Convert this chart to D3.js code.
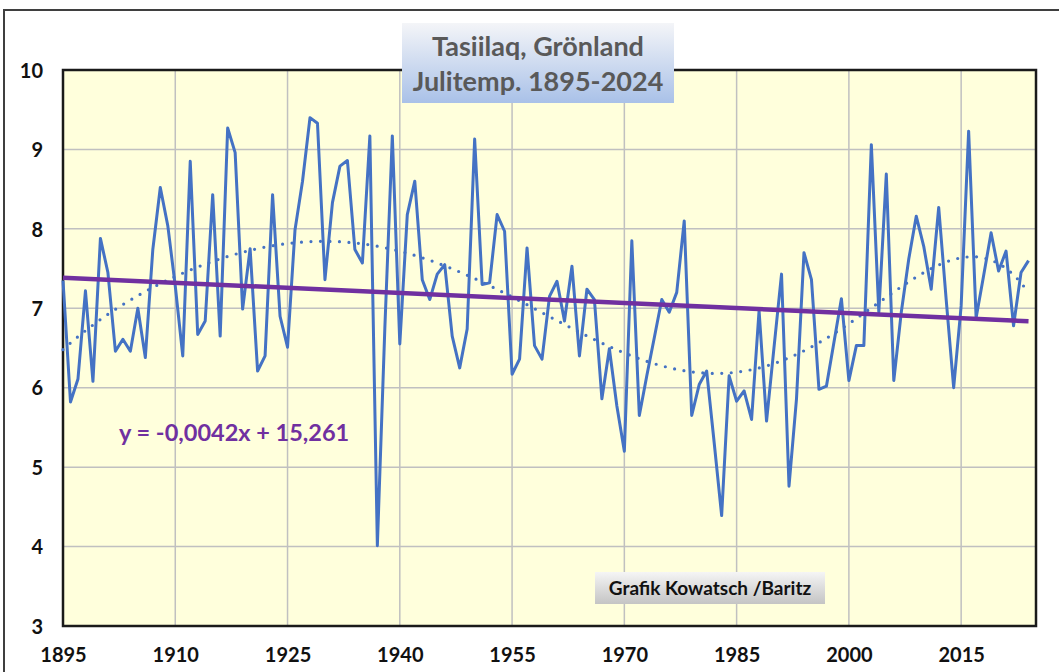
<!DOCTYPE html>
<html>
<head>
<meta charset="utf-8">
<title>Tasiilaq Julitemp</title>
<script src="https://cdnjs.cloudflare.com/ajax/libs/d3/7.8.5/d3.min.js"></script>
<style>
  body { margin: 0; background: #fff; }
  text { font-family: Lato, "Open Sans", sans-serif; font-weight: bold; }
</style>
</head>
<body>
<script>
// July temperatures Tasiilaq, 1895-2024
var startYear = 1895;
var temps = [
  7.35, 5.82, 6.11, 7.22, 6.08,
  7.88, 7.45, 6.46, 6.61, 6.46, 7.00, 6.38, 7.74, 8.52, 8.04,
  7.28, 6.40, 8.85, 6.67, 6.84, 8.43, 6.65, 9.27, 8.96, 6.99,
  7.75, 6.21, 6.40, 8.43, 6.90, 6.51, 7.99, 8.60, 9.40, 9.33,
  7.36, 8.33, 8.79, 8.86, 7.74, 7.57, 9.17, 4.01, 6.75, 9.17,
  6.55, 8.18, 8.60, 7.36, 7.11, 7.43, 7.55, 6.65, 6.25, 6.74,
  9.13, 7.30, 7.32, 8.18, 7.97, 6.17, 6.36, 7.76, 6.53, 6.36,
  7.15, 7.34, 6.84, 7.53, 6.40, 7.24, 7.11, 5.86, 6.49, 5.77,
  5.20, 7.85, 5.65, 6.15, 6.63, 7.11, 6.95, 7.20, 8.10, 5.65,
  6.04, 6.21, 5.31, 4.39, 6.15, 5.83, 5.96, 5.60, 6.97, 5.58,
  6.51, 7.43, 4.76, 5.86, 7.70, 7.36, 5.98, 6.02, 6.57, 7.12,
  6.09, 6.53, 6.53, 9.06, 6.95, 8.69, 6.09, 6.95, 7.62, 8.16,
  7.78, 7.24, 8.27, 7.11, 6.00, 7.03, 9.23, 6.88, 7.41, 7.95,
  7.47, 7.72, 6.78, 7.45, 7.60
];
var years = temps.map(function(d, i) { return startYear + i; });
var xTicks = [1895, 1910, 1925, 1940, 1955, 1970, 1985, 2000, 2015];
var yTicks = [3, 4, 5, 6, 7, 8, 9, 10];
var titleLines = ["Tasiilaq, Grönland", "Julitemp. 1895-2024"];
var equation = "y = -0,0042x + 15,261";
var credit = "Grafik Kowatsch /Baritz";

var width = 1059, height = 672;
var svg = d3.select("body").append("svg")
  .attr("width", width)
  .attr("height", height);

var x = d3.scaleLinear().domain([1895, 2025]).range([63, 1036]);
var y = d3.scaleLinear().domain([3, 10]).range([626, 70]);

var data = years.map(function(yr, i) { return {year: yr, t: temps[i]}; });

// gradients
var defs = svg.append("defs");
var g1 = defs.append("linearGradient").attr("id", "titleGrad")
  .attr("x1", 0).attr("y1", 0).attr("x2", 0).attr("y2", 1);
g1.append("stop").attr("offset", "0%").attr("stop-color", "#f4f5f8");
g1.append("stop").attr("offset", "100%").attr("stop-color", "#a9c1e8");
var g2 = defs.append("linearGradient").attr("id", "creditGrad")
  .attr("x1", 0).attr("y1", 0).attr("x2", 0).attr("y2", 1);
g2.append("stop").attr("offset", "0%").attr("stop-color", "#f5f5f5");
g2.append("stop").attr("offset", "100%").attr("stop-color", "#c4c4c4");

// chart border
svg.append("rect")
  .attr("x", 4).attr("y", 10)
  .attr("width", 1100).attr("height", 700)
  .style("fill", "#fff")
  .style("stroke", "#3f3f3f")
  .style("stroke-width", 2);

// plot area
svg.append("rect")
  .attr("x", x(1895)).attr("y", y(10))
  .attr("width", x(2025) - x(1895)).attr("height", y(3) - y(10))
  .style("fill", "#ffffdc");

// gridlines
svg.append("g").selectAll("line")
  .data(yTicks.slice(1, -1))
  .join("line")
  .attr("x1", x(1895)).attr("x2", x(2025))
  .attr("y1", function(d) { return y(d); })
  .attr("y2", function(d) { return y(d); })
  .style("stroke", "#c0c0c0").style("stroke-width", 1.5);

svg.append("g").selectAll("line")
  .data(xTicks.slice(1))
  .join("line")
  .attr("x1", function(d) { return x(d); })
  .attr("x2", function(d) { return x(d); })
  .attr("y1", y(10)).attr("y2", y(3))
  .style("stroke", "#c0c0c0").style("stroke-width", 1.5);

// plot frame
svg.append("rect")
  .attr("x", x(1895)).attr("y", y(10))
  .attr("width", x(2025) - x(1895)).attr("height", y(3) - y(10))
  .style("fill", "none")
  .style("stroke", "#1a1a1a")
  .style("stroke-width", 2.5);

// axes labels
var xAxis = d3.axisBottom(x).tickValues(xTicks).tickFormat(d3.format("d")).tickSize(0).tickPadding(0);
var gx = svg.append("g").attr("transform", "translate(0,648)").call(xAxis);
gx.select(".domain").remove();
gx.selectAll("text").attr("dy", "0.71em").style("font-size", "20px").style("fill", "#111");

var yAxis = d3.axisLeft(y).tickValues(yTicks).tickFormat(d3.format("d")).tickSize(0).tickPadding(0);
var gy = svg.append("g").attr("transform", "translate(43,0)").call(yAxis);
gy.select(".domain").remove();
gy.selectAll("text").attr("dy", "0.36em").style("font-size", "20px").style("fill", "#111");

// least squares polynomial
function polyfit(xs, ys, order) {
  var n = order + 1;
  var A = [];
  for (var r = 0; r < n; r++) {
    A.push([]);
    for (var c = 0; c <= n; c++) A[r].push(0);
  }
  xs.forEach(function(xv, k) {
    for (var r = 0; r < n; r++) {
      for (var c = 0; c < n; c++) A[r][c] += Math.pow(xv, r + c);
      A[r][n] += ys[k] * Math.pow(xv, r);
    }
  });
  for (var i = 0; i < n; i++) {
    var p = i;
    for (var j = i + 1; j < n; j++) if (Math.abs(A[j][i]) > Math.abs(A[p][i])) p = j;
    var tmp = A[i]; A[i] = A[p]; A[p] = tmp;
    for (var j = i + 1; j < n; j++) {
      var f = A[j][i] / A[i][i];
      for (var c = i; c <= n; c++) A[j][c] -= f * A[i][c];
    }
  }
  var coef = new Array(n).fill(0);
  for (var i = n - 1; i >= 0; i--) {
    var s = A[i][n];
    for (var j = i + 1; j < n; j++) s -= A[i][j] * coef[j];
    coef[i] = s / A[i][i];
  }
  return coef;
}
function evalPoly(coef, xv) {
  return coef.reduce(function(s, c, i) { return s + c * Math.pow(xv, i); }, 0);
}
var xn = d3.scaleLinear().domain([1895, 2024]).range([-1, 1]);
var xsN = years.map(xn);
var polyCoef = polyfit(xsN, temps, 6);
var linCoef = polyfit(xsN, temps, 1);

var line = d3.line()
  .x(function(d) { return x(d.year); })
  .y(function(d) { return y(d.t); });

// polynomial trend, dotted
svg.append("path")
  .attr("d", line(years.map(function(yr) { return {year: yr, t: evalPoly(polyCoef, xn(yr))}; })))
  .style("fill", "none")
  .style("stroke", "#4472c4")
  .style("stroke-width", 3.2)
  .style("stroke-linecap", "round")
  .style("stroke-dasharray", "0 9.5");

// data line
svg.append("path")
  .attr("d", line(data))
  .style("fill", "none")
  .style("stroke", "#4472c4")
  .style("stroke-width", 3)
  .style("stroke-linejoin", "round");

// linear trend
svg.append("path")
  .attr("d", line([1895, 2024].map(function(yr) { return {year: yr, t: evalPoly(linCoef, xn(yr))}; })))
  .style("fill", "none")
  .style("stroke", "#7030a0")
  .style("stroke-width", 4.5);

svg.append("text")
  .attr("x", 119).attr("y", 441)
  .style("font-size", "23.5px")
  .style("fill", "#7030a0")
  .text(equation);

// title box
svg.append("rect")
  .attr("x", 402).attr("y", 23)
  .attr("width", 272).attr("height", 80)
  .style("fill", "url(#titleGrad)");
svg.append("g").selectAll("text")
  .data(titleLines)
  .join("text")
  .attr("x", 538)
  .attr("y", function(d, i) { return 56 + i * 35; })
  .attr("text-anchor", "middle")
  .style("font-size", "27px")
  .style("fill", "#595959")
  .text(function(d) { return d; });

// credit box
svg.append("rect")
  .attr("x", 595).attr("y", 572)
  .attr("width", 230).attr("height", 32)
  .style("fill", "url(#creditGrad)");
svg.append("text")
  .attr("x", 710).attr("y", 595)
  .attr("text-anchor", "middle")
  .style("font-size", "19px")
  .style("fill", "#111")
  .text(credit);
</script>
</body>
</html>
